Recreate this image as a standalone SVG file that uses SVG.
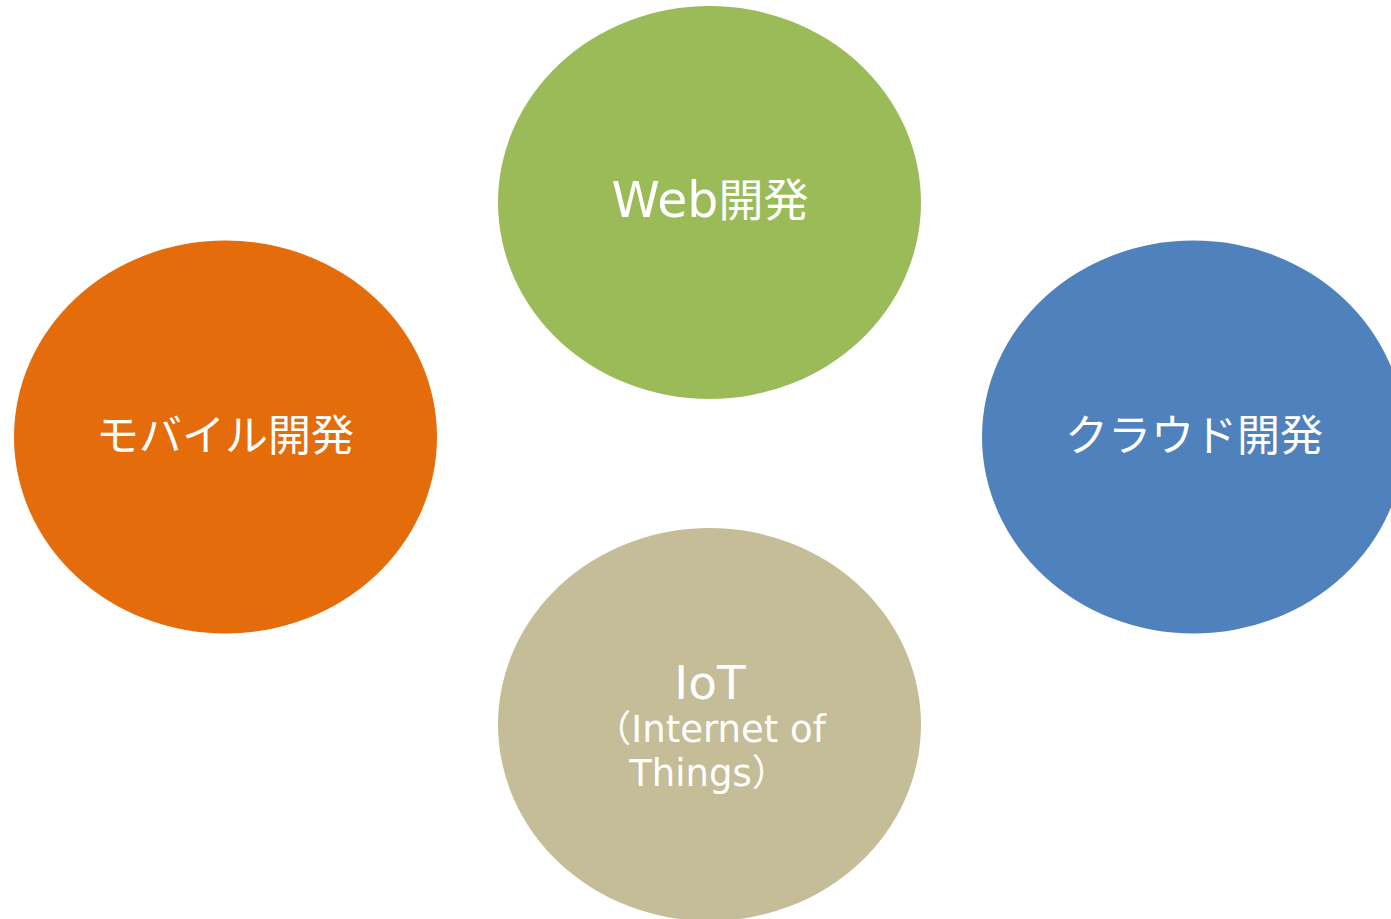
<svg xmlns="http://www.w3.org/2000/svg" width="1391" height="919" viewBox="0 0 1391 919">
<style>
text{font-family:"DejaVu Sans","Noto Sans CJK JP",sans-serif;fill:#fff;text-anchor:middle}
.big{font-size:43px}
.lat{font-size:47px}
.mid{font-size:37px}
</style>
<rect width="1391" height="919" fill="#fff"/>
<g id="connectors"></g>
<g id="web">
<ellipse cx="709.5" cy="202.5" rx="211.5" ry="196.5" fill="#9BBB59"/>
<text class="big" x="710" y="217" style="font-size:45px"><tspan style="font-size:49px">Web</tspan>開発</text>
</g>
<g id="mobile">
<ellipse cx="225.5" cy="437" rx="211.5" ry="196.5" fill="#E46C0A"/>
<text class="big" x="225" y="451">モバイル開発</text>
</g>
<g id="cloud">
<ellipse cx="1193.5" cy="437" rx="211.5" ry="196.5" fill="#4F81BD"/>
<text class="big" x="1194" y="451">クラウド開発</text>
</g>
<g id="iot">
<ellipse cx="709.5" cy="724.5" rx="211.5" ry="196.5" fill="#C4BD97"/>
<text class="lat" x="710" y="699">IoT</text>
<text class="mid" x="710" y="742">（Internet of</text>
<text class="mid" x="709" y="786">Things）</text>
</g>
</svg>
